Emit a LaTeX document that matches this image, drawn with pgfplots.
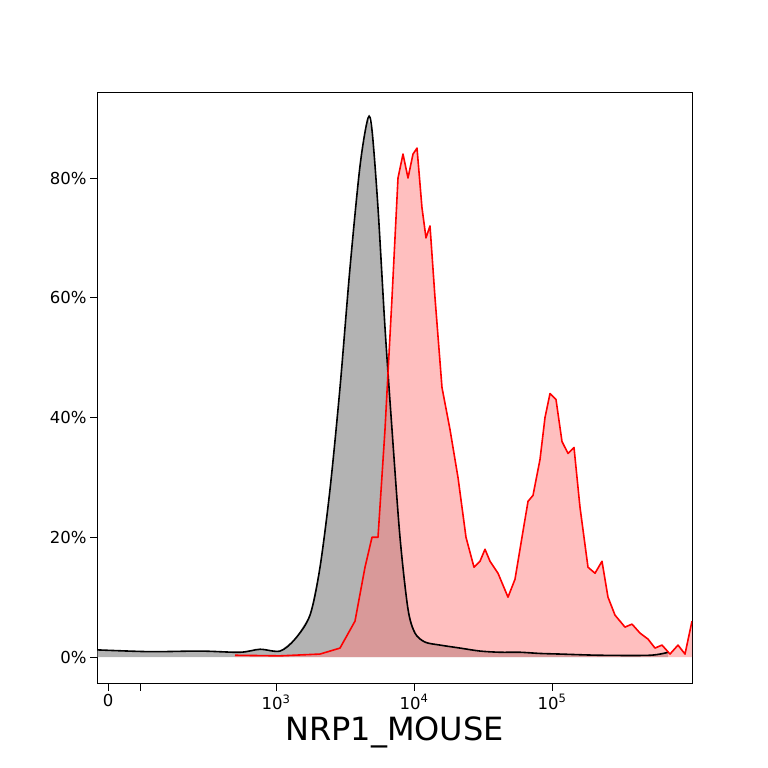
\documentclass[border=0pt]{standalone}
\usepackage{pgfplots}
\pgfplotsset{compat=1.18}
\usepackage{fontspec}
\setmainfont{DejaVu Sans}
\begin{document}
\begin{tikzpicture}
\useasboundingbox (0,0) rectangle (768pt,768pt);
\begin{axis}[at={(97pt,84pt)},anchor=south west,scale only axis,width=595pt,height=591pt,
xmin=97,xmax=692,ymin=-4.5,ymax=94.2,
xtick={108,140,276,414,552},xticklabels={0,,10\textsuperscript{3},10\textsuperscript{4},10\textsuperscript{5}},
ytick={0,20,40,60,80},yticklabels={0\%,20\%,40\%,60\%,80\%},
tick label style={font=\fontsize{16.5}{20}\selectfont},
/pgf/number format/assume math mode=true,
xlabel={NRP1\_MOUSE},xlabel style={font=\fontsize{32}{38}\selectfont},
tick align=outside,tick pos=left,tick style={black,line width=1pt},major tick length=7pt,
axis line style={line width=1pt}]
\addplot[draw=none,fill=gray,fill opacity=0.6] coordinates {(97,0)(97,1.2)(150,0.9)(200,1.0)(240,0.8)(260,1.3)(280,1.0)(295,3)(310,7)(320,15)(330,28)(340,45)(350,65)(360,82)(368,90)(372,88)(378,75)(385,55)(392,38)(400,20)(408,8)(415,4)(425,2.5)(440,2)(460,1.5)(480,1.0)(500,0.8)(520,0.8)(540,0.6)(560,0.5)(600,0.3)(650,0.3)(668,0.8)(668,0)} --cycle;
\addplot[draw=none,fill=red!50,fill opacity=0.5] coordinates {(235,0)(235,0.3)(280,0.2)(320,0.5)(340,1.5)(355,6)(365,15)(372,20)(378,20)(385,38)(392,60)(398,80)(403,84)(408,80)(413,84)(417,85)(422,75)(426,70)(430,72)(435,60)(442,45)(450,38)(458,30)(466,20)(474,15)(480,16)(485,18)(490,16)(498,14)(508,10)(515,13)(522,20)(528,26)(533,27)(540,33)(545,40)(550,44)(556,43)(562,36)(568,34)(574,35)(580,25)(588,15)(595,14)(602,16)(608,10)(615,7)(625,5)(632,5.5)(640,4)(648,3)(655,1.5)(662,2)(670,0.5)(678,2)(685,0.5)(692,6)(692,0)} --cycle;
\addplot[black,line width=1.6pt,smooth] coordinates {(97,1.2)(150,0.9)(200,1.0)(240,0.8)(260,1.3)(280,1.0)(295,3)(310,7)(320,15)(330,28)(340,45)(350,65)(360,82)(368,90)(372,88)(378,75)(385,55)(392,38)(400,20)(408,8)(415,4)(425,2.5)(440,2)(460,1.5)(480,1.0)(500,0.8)(520,0.8)(540,0.6)(560,0.5)(600,0.3)(650,0.3)(668,0.8)};
\addplot[red,line width=1.6pt,line join=round] coordinates {(235,0.3)(280,0.2)(320,0.5)(340,1.5)(355,6)(365,15)(372,20)(378,20)(385,38)(392,60)(398,80)(403,84)(408,80)(413,84)(417,85)(422,75)(426,70)(430,72)(435,60)(442,45)(450,38)(458,30)(466,20)(474,15)(480,16)(485,18)(490,16)(498,14)(508,10)(515,13)(522,20)(528,26)(533,27)(540,33)(545,40)(550,44)(556,43)(562,36)(568,34)(574,35)(580,25)(588,15)(595,14)(602,16)(608,10)(615,7)(625,5)(632,5.5)(640,4)(648,3)(655,1.5)(662,2)(670,0.5)(678,2)(685,0.5)(692,6)};
\end{axis}
\end{tikzpicture}
\end{document}
